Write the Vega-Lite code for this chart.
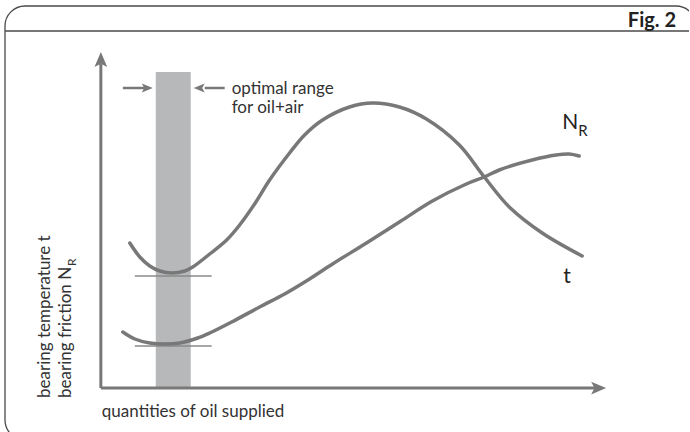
{
  "$schema": "https://vega.github.io/schema/vega-lite/v6.json",
  "width": 690,
  "height": 432,
  "autosize": {"type": "fit", "contains": "padding"},
  "padding": 0,
  "background": "white",
  "config": {"view": {"stroke": null}},
  "datasets": {
    "frame": [{"x": -96, "x2": 596, "y": 382, "y2": -52}],
    "band": [{"x": 55, "x2": 90, "y": 0, "y2": 316}],
    "rules": [
      {"kind": "sep", "x": -96, "x2": 589, "y": 357, "y2": 357},
      {"kind": "axis", "x": 0, "x2": 0, "y": 0, "y2": 324},
      {"kind": "axis", "x": 0, "x2": 496, "y": 0, "y2": 0},
      {"kind": "shaft", "x": 22, "x2": 44, "y": 300, "y2": 300},
      {"kind": "shaft", "x": 104, "x2": 124, "y": 300, "y2": 300},
      {"kind": "tick", "x": 34, "x2": 111, "y": 112, "y2": 112},
      {"kind": "tick", "x": 34, "x2": 111, "y": 42, "y2": 42}
    ],
    "heads": [
      {"kind": "up", "x": 0, "y": 328.5},
      {"kind": "right", "x": 498.5, "y": 0},
      {"kind": "smallright", "x": 46.5, "y": 300},
      {"kind": "smallleft", "x": 98.5, "y": 300}
    ],
    "curves": [
      {"curve": "t", "x": 29, "y": 145},
      {"curve": "t", "x": 39, "y": 131},
      {"curve": "t", "x": 49, "y": 122},
      {"curve": "t", "x": 59, "y": 117},
      {"curve": "t", "x": 71, "y": 115},
      {"curve": "t", "x": 84, "y": 117},
      {"curve": "t", "x": 92, "y": 121},
      {"curve": "t", "x": 109, "y": 134},
      {"curve": "t", "x": 126, "y": 148},
      {"curve": "t", "x": 139, "y": 163},
      {"curve": "t", "x": 154, "y": 184},
      {"curve": "t", "x": 169, "y": 208},
      {"curve": "t", "x": 189, "y": 235},
      {"curve": "t", "x": 204, "y": 253},
      {"curve": "t", "x": 222, "y": 268},
      {"curve": "t", "x": 249, "y": 281},
      {"curve": "t", "x": 272, "y": 285},
      {"curve": "t", "x": 299, "y": 281},
      {"curve": "t", "x": 326, "y": 269},
      {"curve": "t", "x": 359, "y": 243},
      {"curve": "t", "x": 384, "y": 211},
      {"curve": "t", "x": 409, "y": 181},
      {"curve": "t", "x": 442, "y": 155},
      {"curve": "t", "x": 482, "y": 132},
      {"curve": "N_R", "x": 22, "y": 56},
      {"curve": "N_R", "x": 34, "y": 49},
      {"curve": "N_R", "x": 49, "y": 45},
      {"curve": "N_R", "x": 64, "y": 44},
      {"curve": "N_R", "x": 79, "y": 45},
      {"curve": "N_R", "x": 97, "y": 50},
      {"curve": "N_R", "x": 109, "y": 55},
      {"curve": "N_R", "x": 131, "y": 66},
      {"curve": "N_R", "x": 159, "y": 81},
      {"curve": "N_R", "x": 184, "y": 94},
      {"curve": "N_R", "x": 209, "y": 109},
      {"curve": "N_R", "x": 232, "y": 124},
      {"curve": "N_R", "x": 266, "y": 145},
      {"curve": "N_R", "x": 299, "y": 166},
      {"curve": "N_R", "x": 332, "y": 187},
      {"curve": "N_R", "x": 366, "y": 204},
      {"curve": "N_R", "x": 384, "y": 211},
      {"curve": "N_R", "x": 399, "y": 218},
      {"curve": "N_R", "x": 432, "y": 228},
      {"curve": "N_R", "x": 456, "y": 233},
      {"curve": "N_R", "x": 469, "y": 234},
      {"curve": "N_R", "x": 479, "y": 232}
    ],
    "labels": [
      {"role": "note", "text": "optimal range", "x": 131, "y": 294},
      {"role": "note", "text": "for oil+air", "x": 131, "y": 275},
      {"role": "note", "text": "quantities of oil supplied", "x": 1, "y": -29},
      {"role": "ytitle", "text": "bearing temperature t", "x": -51, "y": -10},
      {"role": "ytitle", "text": "bearing friction N", "x": -30, "y": -10},
      {"role": "ysub", "text": "R", "x": -25, "y": 122},
      {"role": "big", "text": "N", "x": 462, "y": 259},
      {"role": "big", "text": "t", "x": 463, "y": 105},
      {"role": "sub", "text": "R", "x": 478, "y": 252},
      {"role": "fig", "text": "Fig. 2", "x": 576, "y": 361}
    ]
  },
  "encoding": {
    "x": {"field": "x", "type": "quantitative", "scale": {"domain": [-101, 589], "nice": false, "zero": false}, "axis": null},
    "y": {"field": "y", "type": "quantitative", "scale": {"domain": [-44, 388], "nice": false, "zero": false}, "axis": null}
  },
  "layer": [
    {
      "data": {"name": "band"},
      "mark": {"type": "rect", "color": "#b7b8ba"},
      "encoding": {"x2": {"field": "x2"}, "y2": {"field": "y2"}}
    },
    {
      "data": {"name": "frame"},
      "mark": {"type": "rect", "cornerRadius": 20, "fillOpacity": 0, "stroke": "#4a4a4a", "strokeWidth": 1.3, "clip": true},
      "encoding": {"x2": {"field": "x2"}, "y2": {"field": "y2"}}
    },
    {
      "data": {"name": "rules"},
      "transform": [{"filter": "datum.kind === 'sep'"}],
      "mark": {"type": "rule", "color": "#4a4a4a", "strokeWidth": 1.3},
      "encoding": {"x2": {"field": "x2"}, "y2": {"field": "y2"}}
    },
    {
      "data": {"name": "rules"},
      "transform": [{"filter": "datum.kind === 'axis'"}],
      "mark": {"type": "rule", "color": "#787878", "strokeWidth": 3},
      "encoding": {"x2": {"field": "x2"}, "y2": {"field": "y2"}}
    },
    {
      "data": {"name": "rules"},
      "transform": [{"filter": "datum.kind === 'shaft'"}],
      "mark": {"type": "rule", "color": "#787878", "strokeWidth": 2.5},
      "encoding": {"x2": {"field": "x2"}, "y2": {"field": "y2"}}
    },
    {
      "data": {"name": "rules"},
      "transform": [{"filter": "datum.kind === 'tick'"}],
      "mark": {"type": "rule", "color": "#8a8a8a", "strokeWidth": 1.6},
      "encoding": {"x2": {"field": "x2"}, "y2": {"field": "y2"}}
    },
    {
      "data": {"name": "curves"},
      "mark": {"type": "line", "color": "#787878", "strokeWidth": 3.5, "interpolate": "catmull-rom", "strokeCap": "round"},
      "encoding": {"detail": {"field": "curve"}}
    },
    {
      "data": {"name": "heads"},
      "transform": [{"filter": "datum.kind === 'up'"}],
      "mark": {"type": "point", "filled": true, "color": "#787878", "opacity": 1, "size": 225, "shape": "M-0.85,1L0,-1L0.85,1L0,0.55Z"}
    },
    {
      "data": {"name": "heads"},
      "transform": [{"filter": "datum.kind === 'right'"}],
      "mark": {"type": "point", "filled": true, "color": "#787878", "opacity": 1, "size": 225, "shape": "M-1,-0.85L1,0L-1,0.85L-0.55,0Z"}
    },
    {
      "data": {"name": "heads"},
      "transform": [{"filter": "datum.kind === 'smallright'"}],
      "mark": {"type": "point", "filled": true, "color": "#787878", "opacity": 1, "size": 121, "shape": "M-1,-0.8L1,0L-1,0.8L-0.55,0Z"}
    },
    {
      "data": {"name": "heads"},
      "transform": [{"filter": "datum.kind === 'smallleft'"}],
      "mark": {"type": "point", "filled": true, "color": "#787878", "opacity": 1, "size": 121, "shape": "M1,-0.8L-1,0L1,0.8L0.55,0Z"}
    },
    {
      "data": {"name": "labels"},
      "transform": [{"filter": "datum.role === 'note'"}],
      "mark": {"type": "text", "align": "left", "baseline": "alphabetic", "font": "Lato", "fontSize": 17, "color": "#333333"},
      "encoding": {"text": {"field": "text"}}
    },
    {
      "data": {"name": "labels"},
      "transform": [{"filter": "datum.role === 'ytitle'"}],
      "mark": {"type": "text", "align": "left", "baseline": "alphabetic", "angle": 270, "font": "Lato", "fontSize": 17, "color": "#333333"},
      "encoding": {"text": {"field": "text"}}
    },
    {
      "data": {"name": "labels"},
      "transform": [{"filter": "datum.role === 'ysub'"}],
      "mark": {"type": "text", "align": "left", "baseline": "alphabetic", "angle": 270, "font": "Lato", "fontSize": 12, "color": "#333333"},
      "encoding": {"text": {"field": "text"}}
    },
    {
      "data": {"name": "labels"},
      "transform": [{"filter": "datum.role === 'big'"}],
      "mark": {"type": "text", "align": "left", "baseline": "alphabetic", "font": "Lato", "fontSize": 21, "color": "#222222"},
      "encoding": {"text": {"field": "text"}}
    },
    {
      "data": {"name": "labels"},
      "transform": [{"filter": "datum.role === 'sub'"}],
      "mark": {"type": "text", "align": "left", "baseline": "alphabetic", "font": "Lato", "fontSize": 15, "color": "#222222"},
      "encoding": {"text": {"field": "text"}}
    },
    {
      "data": {"name": "labels"},
      "transform": [{"filter": "datum.role === 'fig'"}],
      "mark": {"type": "text", "align": "right", "baseline": "alphabetic", "font": "Liberation Sans Narrow, Lato", "fontSize": 20, "fontWeight": "bold", "color": "#222222"},
      "encoding": {"text": {"field": "text"}}
    }
  ]
}
